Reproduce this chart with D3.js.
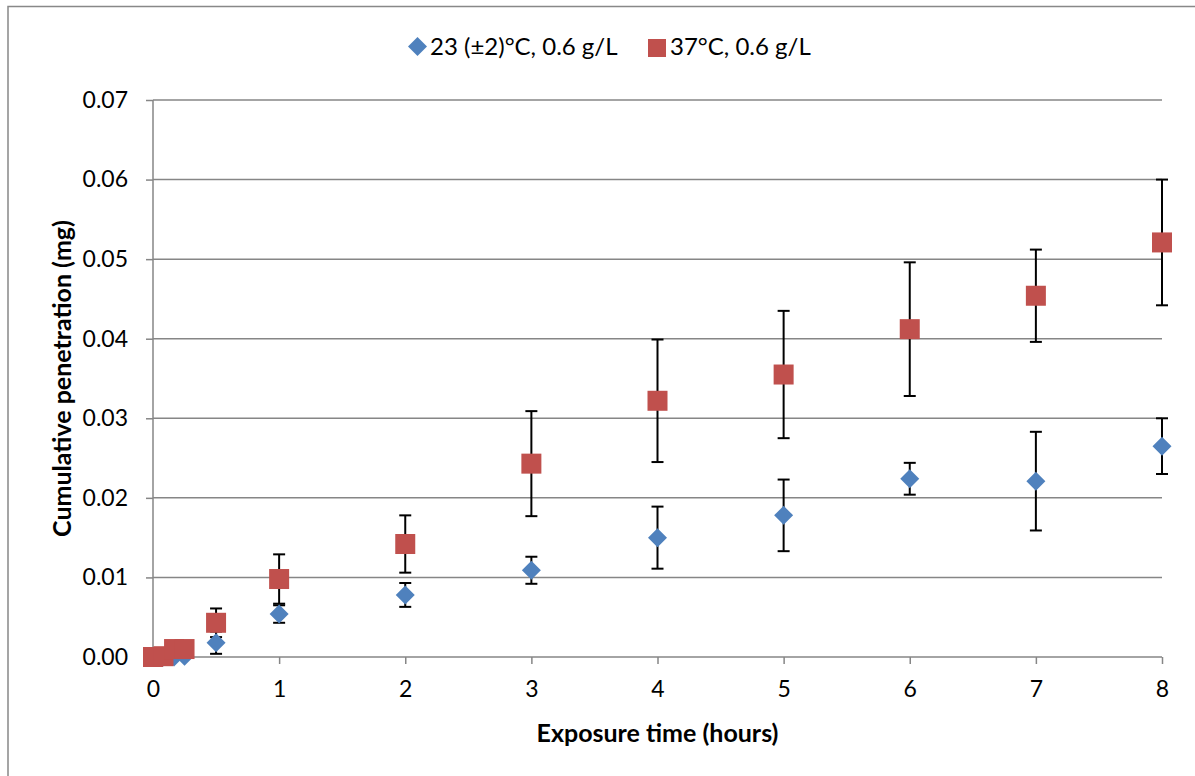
<!DOCTYPE html>
<html><head><meta charset="utf-8">
<script src="https://cdn.jsdelivr.net/npm/d3@7"></script>
<style>
html,body{margin:0;padding:0;background:#fff;}
svg{display:block;font-family:Lato,"Open Sans",sans-serif;}
</style></head>
<body><svg id="c" width="1195" height="776"></svg>
<script>
const times = [0, 0.083, 0.167, 0.25, 0.5, 1, 2, 3, 4, 5, 6, 7, 8];
const seriesNames = ["23 (±2)°C, 0.6 g/L", "37°C, 0.6 g/L"];
const blueMean = [0, 0, 0, 0.0001, 0.0018, 0.0054, 0.0078, 0.0109, 0.0150, 0.0178, 0.0224, 0.0221, 0.0265];
const blueErr  = [0, 0, 0, 0.0002, 0.0014, 0.0011, 0.0015, 0.0017, 0.0039, 0.0045, 0.0020, 0.0062, 0.0035];
const redMean  = [0, 0.0001, 0.0010, 0.0010, 0.0043, 0.0098, 0.0142, 0.0243, 0.0322, 0.0355, 0.0412, 0.0454, 0.0521];
const redErr   = [0, 0, 0.0002, 0.0002, 0.0018, 0.0031, 0.0036, 0.0066, 0.0077, 0.0080, 0.0084, 0.0058, 0.0079];
const xTicks = [0,1,2,3,4,5,6,7,8];
const yTicks = [0,0.01,0.02,0.03,0.04,0.05,0.06,0.07];
const xTitle = "Exposure time (hours)";
const yTitle = "Cumulative penetration (mg)";

const svg = d3.select("#c");
const L = 153, R = 1162, T = 100, B = 657;
const x = d3.scaleLinear().domain([0,8]).range([L,R]);
const y = d3.scaleLinear().domain([0,0.07]).range([B,T]);
const grid = "#868686";

// outer frame
svg.append("rect").attr("x",8).attr("y",6.5).attr("width",1200).attr("height",800)
  .attr("fill","none").attr("stroke","#888").attr("stroke-width",1.5);

// gridlines
svg.append("g").selectAll("line").data(yTicks.slice(1)).join("line")
  .attr("x1",L).attr("x2",R).attr("y1",d=>y(d)).attr("y2",d=>y(d))
  .attr("stroke",grid).attr("stroke-width",1.5);

// axes
const yAxis = d3.axisLeft(y).tickValues(yTicks).tickFormat(d3.format(".2f")).tickSize(7).tickPadding(18);
const gy = svg.append("g").attr("transform",`translate(${L},0)`).call(yAxis);
const xAxis = d3.axisBottom(x).tickValues(xTicks).tickFormat(d3.format("d")).tickSize(7).tickPadding(17);
const gx = svg.append("g").attr("transform",`translate(0,${B})`).call(xAxis);
[gx,gy].forEach(g=>{
  g.select(".domain").attr("stroke",grid).attr("stroke-width",1.5);
  g.selectAll(".tick line").attr("stroke",grid).attr("stroke-width",1.5);
  g.selectAll("text").attr("fill","#000").style("font-size","23px").style("font-family","Lato,'Open Sans',sans-serif");
});
gx.select(".domain").attr("d",`M${L},0H${R}`);
gy.select(".domain").attr("d",`M0,${B}V${T}`);

// axis titles
svg.append("text").attr("x",(L+R)/2).attr("y",742).attr("text-anchor","middle")
  .style("font-size","25px").style("font-weight","bold").text(xTitle);
svg.append("text").attr("transform",`translate(71,${(T+B)/2}) rotate(-90)`).attr("text-anchor","middle")
  .style("font-size","25px").style("font-weight","bold").text(yTitle);

function drawErr(means, errs){
  const g = svg.append("g");
  const d = times.map((t,i)=>({t, m:means[i], e:errs[i]})).filter(p=>p.e>0);
  g.selectAll("line.v").data(d).join("line")
    .attr("x1",p=>x(p.t)).attr("x2",p=>x(p.t)).attr("y1",p=>y(p.m-p.e)).attr("y2",p=>y(p.m+p.e))
    .attr("stroke","#000").attr("stroke-width",2);
  ["top","bot"].forEach(k=>{
    g.selectAll("line."+k).data(d).join("line")
      .attr("x1",p=>x(p.t)-6).attr("x2",p=>x(p.t)+6)
      .attr("y1",p=>y(k==="top"?p.m+p.e:p.m-p.e)).attr("y2",p=>y(k==="top"?p.m+p.e:p.m-p.e))
      .attr("stroke","#000").attr("stroke-width",2);
  });
}
drawErr(blueMean, blueErr);
drawErr(redMean, redErr);

// blue diamonds
const dsz = 9.5;
svg.append("g").selectAll("path").data(times.map((t,i)=>({t,v:blueMean[i]}))).join("path")
  .attr("d",p=>{const cx=x(p.t), cy=y(p.v); return `M${cx},${cy-dsz}L${cx+dsz},${cy}L${cx},${cy+dsz}L${cx-dsz},${cy}Z`;})
  .attr("fill","#4F81BD");
// red squares
const ssz = 20;
svg.append("g").selectAll("rect").data(times.map((t,i)=>({t,v:redMean[i]}))).join("rect")
  .attr("x",p=>x(p.t)-ssz/2).attr("y",p=>y(p.v)-ssz/2).attr("width",ssz).attr("height",ssz)
  .attr("fill","#C0504D");

// legend
const lg = svg.append("g");
lg.append("path").attr("d","M417.5,37L427,46.5L417.5,56L408,46.5Z").attr("fill","#4F81BD");
lg.append("text").attr("x",430).attr("y",55).style("font-size","24px").text(seriesNames[0]);
lg.append("rect").attr("x",648).attr("y",39).attr("width",18).attr("height",18).attr("fill","#C0504D");
lg.append("text").attr("x",670).attr("y",55).style("font-size","24px").text(seriesNames[1]);
</script></body></html>
